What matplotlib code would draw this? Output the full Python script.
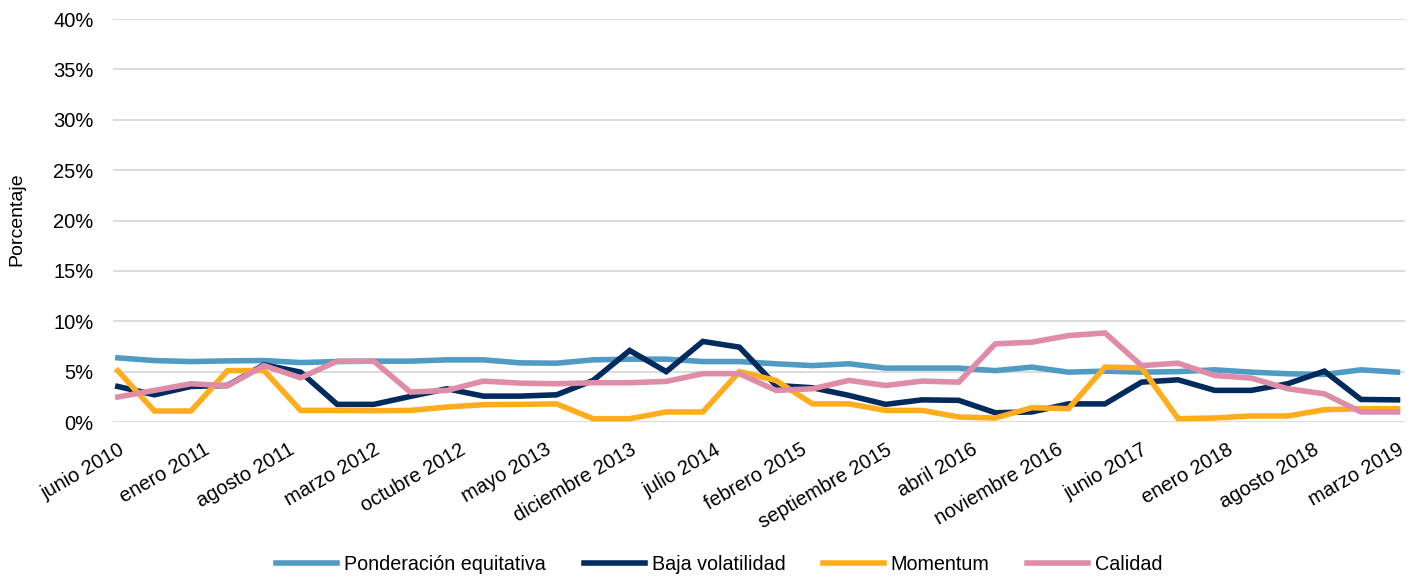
import matplotlib.pyplot as plt
import pandas as pd

plt.rcParams['font.family'] = ['Liberation Sans', 'DejaVu Sans']

# quarterly observations, junio 2010 .. marzo 2019 (values in %)
fechas = pd.date_range('2010-06-01', '2019-03-01', freq='3MS')

ponderacion = [6.37, 6.1, 6.0, 6.07, 6.1, 5.9, 6.0, 6.04, 6.04, 6.17, 6.17, 5.87,
               5.84, 6.17, 6.24, 6.24, 6.0, 6.0, 5.78, 5.6, 5.78, 5.35, 5.35, 5.35,
               5.1, 5.45, 4.95, 5.05, 4.95, 5.0, 5.18, 4.95, 4.79, 4.72, 5.18, 4.95]
baja_vol = [3.53, 2.7, 3.53, 3.63, 5.68, 4.95, 1.75, 1.75, 2.54, 3.3, 2.57, 2.57,
            2.7, 4.13, 7.1, 5.0, 8.0, 7.43, 3.63, 3.4, 2.64, 1.75, 2.2, 2.15,
            0.92, 1.0, 1.8, 1.8, 3.96, 4.19, 3.14, 3.14, 3.8, 5.05, 2.24, 2.2]
momentum = [5.1, 1.09, 1.09, 5.1, 5.1, 1.15, 1.15, 1.12, 1.15, 1.49, 1.72, 1.75,
            1.8, 0.33, 0.33, 1.0, 1.0, 5.0, 4.13, 1.8, 1.8, 1.15, 1.15, 0.5,
            0.4, 1.42, 1.32, 5.45, 5.38, 0.33, 0.4, 0.6, 0.6, 1.22, 1.32, 1.32]
calidad = [2.48, 3.14, 3.8, 3.6, 5.6, 4.39, 6.04, 6.04, 2.97, 3.14, 4.06, 3.86,
           3.8, 3.9, 3.9, 4.03, 4.8, 4.8, 3.14, 3.3, 4.13, 3.63, 4.06, 3.96,
           7.76, 7.92, 8.58, 8.84, 5.6, 5.84, 4.62, 4.36, 3.3, 2.8, 1.0, 1.0]

meses = ['enero', 'febrero', 'marzo', 'abril', 'mayo', 'junio', 'julio', 'agosto',
         'septiembre', 'octubre', 'noviembre', 'diciembre']

# x in months since junio 2010, ticks every 7 months
x = [(d.year - 2010) * 12 + d.month - 6 for d in fechas]
ticks = list(range(0, 106, 7))
tick_labels = [f"{meses[(5 + t) % 12]} {2010 + (5 + t) // 12}" for t in ticks]

fig = plt.figure(figsize=(14.19, 5.77), dpi=100)
ax = fig.add_axes([0.0796, 0.2686, 0.9104, 0.6984])

series = [
    ('Ponderación equitativa', ponderacion, '#4f9bc4'),
    ('Baja volatilidad', baja_vol, '#002b5c'),
    ('Momentum', momentum, '#ffad1c'),
    ('Calidad', calidad, '#de8ca7'),
]
for name, vals, col in series:
    ax.plot(x, [v / 100 for v in vals], color=col, lw=4.0, label=name,
            solid_joinstyle='miter')

ax.set_ylim(0, 0.40)
ax.set_xlim(-0.4, 105.6)
ax.set_yticks([i * 0.05 for i in range(9)])
ax.set_yticklabels([f"{i * 5}%" for i in range(9)], fontsize=14.5)
ax.set_xticks(ticks)
ax.set_xticklabels(tick_labels, rotation=30, ha='right', rotation_mode='anchor',
                   fontsize=14.5)
ax.tick_params(length=0)
ax.tick_params(axis='y', pad=14)
ax.tick_params(axis='x', pad=13)
ax.grid(axis='y', color='#d9d9d9', lw=1.3)
ax.set_axisbelow(True)
for s in ax.spines.values():
    s.set_visible(False)

fig.text(0.012, 0.62, 'Porcentaje', rotation=90, va='center', ha='center',
         fontsize=14)

fig.legend(loc='center', bbox_to_anchor=(0.507, 0.022), ncol=4, frameon=False,
           fontsize=14.2, handlelength=3.1, handletextpad=0.35, columnspacing=1.9)

fig.savefig('out.png', dpi=100)
